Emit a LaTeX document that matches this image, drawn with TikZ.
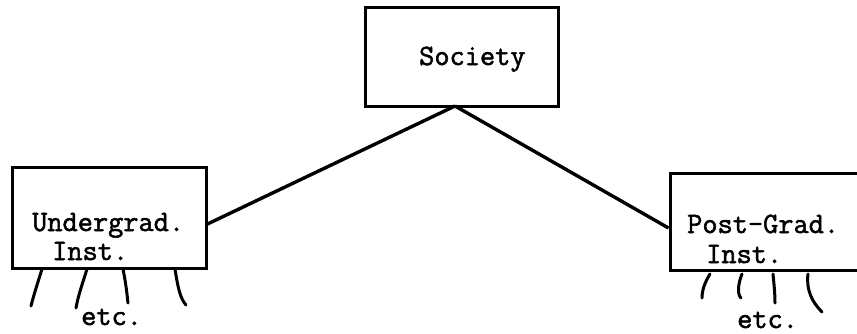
\documentclass[tikz,border=0pt]{standalone}
\usepackage{fontspec}
\setmonofont[FakeBold=1.8]{Latin Modern Mono}
\begin{document}
\begin{tikzpicture}[x=1pt,y=-1pt,
  box/.style={draw,line width=3pt,inner sep=0pt},
  lbl/.style={inner sep=0pt,anchor=base west,font=\ttfamily\fontsize{29.5}{34}\selectfont},
  link/.style={line width=3.4pt},
  leg/.style={line width=3pt,line cap=round}]
\useasboundingbox (0,0) rectangle (857,333);
\clip (0,0) rectangle (857,333);
% boxes
\node[box,minimum width=193pt,minimum height=99pt] (soc) at (461.5,56.5) {};
\node[box,minimum width=194pt,minimum height=101pt] (ug) at (109,217.5) {};
\node[box,minimum width=220pt,minimum height=97pt] (pg) at (780,221.5) {};
% texts
\node[lbl] (tsoc) at (419,65) {Society};
\node[lbl] (tug1) at (32,231) {Undergrad.};
\node[lbl] (tug2) at (52,260) {Inst.};
\node[lbl] (tpg1) at (687,233) {Post-Grad.};
\node[lbl] (tpg2) at (706,263) {Inst.};
\node[lbl] (etc1) at (81,325) {etc.};
\node[lbl] (etc2) at (737,328) {etc.};
% connectors
\coordinate (apex) at (455,106);
\coordinate (ugend) at (ug.east |- 0,224);
\coordinate (pgend) at (pg.west |- 0,228);
\draw[link] (apex) -- (ugend);
\draw[link] (apex) -- (pgend);
% legs under undergrad box
\draw[leg] (42,269) .. controls (38,282) and (34,294) .. (31,306);
\draw[leg] (87,269) .. controls (83,282) and (78,296) .. (76,308);
\draw[leg] (123,269) .. controls (126,284) and (127,294) .. (128,303);
\draw[leg] (175,269) .. controls (178,288) and (180,298) .. (186,305);
% legs under post-grad box
\draw[leg] (710,274) .. controls (705,282) and (702,290) .. (702,298);
\draw[leg] (742,274) .. controls (738,284) and (737,294) .. (741,298);
\draw[leg] (773,274) .. controls (774,284) and (775,294) .. (775,303);
\draw[leg] (808,274) .. controls (806,290) and (812,302) .. (822,312);
\end{tikzpicture}
\end{document}
